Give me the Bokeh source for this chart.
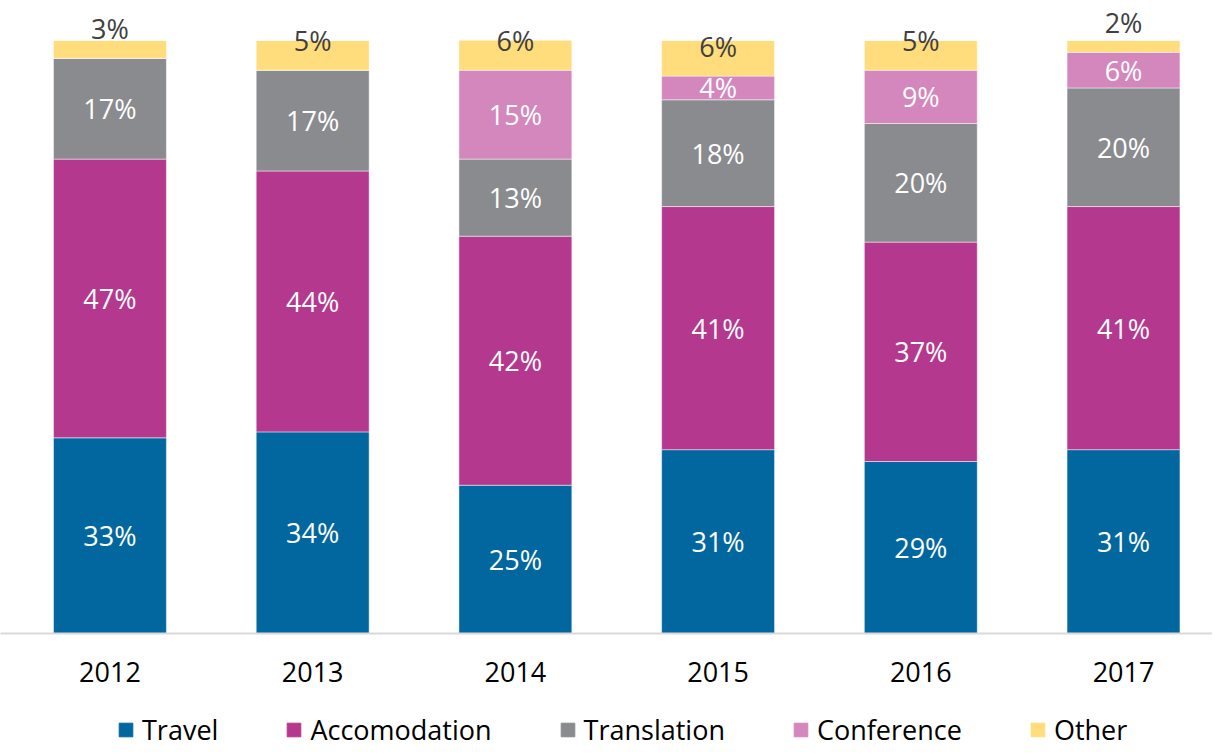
from bokeh.plotting import figure
from bokeh.models import ColumnDataSource, Range1d, FixedTicker, LabelSet, Legend, LegendItem, BoxAnnotation
from bokeh.core.properties import value
from bokeh.layouts import column
from bokeh.embed import file_html
from bokeh.resources import INLINE

years = ["2012", "2013", "2014", "2015", "2016", "2017"]
series_names = ["Travel", "Accomodation", "Translation", "Conference", "Other"]
travel = [33, 34, 25, 31, 29, 31]
accomodation = [47, 44, 42, 41, 37, 41]
translation = [17, 17, 13, 18, 20, 20]
conference = [0, 0, 15, 4, 9, 6]
other = [3, 5, 6, 6, 5, 2]
colors = ["#02679e", "#b5388f", "#8a8b8e", "#d487bd", "#ffdc7c"]
label_colors = ["white", "white", "white", "white", "#404040"]

FONT = "Open Sans"
keys = ["travel", "accomodation", "translation", "conference", "other"]
values_list = [travel, accomodation, translation, conference, other]

xs = list(range(len(years)))
data = {"x": xs}
for k, v in zip(keys, values_list):
    data[k] = v
source = ColumnDataSource(data)

Y_MAX = 100  # value axis maximum (as in the original chart)
p = figure(width=1212, height=708, x_range=Range1d(-0.540, 5.439), y_range=Range1d(0, 106.07),
           output_backend="svg", toolbar_location=None,
           min_border_left=0, min_border_right=0, min_border_top=4, min_border_bottom=75)

renderers = p.vbar_stack(keys, x="x", width=0.557, color=colors, source=source,
                         line_color="white", line_width=0.8, line_alpha=0.6)

# the value axis stops at 100%: hide anything stacked beyond it
p.add_layout(BoxAnnotation(bottom=Y_MAX, fill_color="white", fill_alpha=1.0, line_alpha=0))

# segment labels
lx, ly, lt, lc = [], [], [], []
bottoms = [0] * len(years)
for si, vals in enumerate(values_list):
    for i, v in enumerate(vals):
        if v > 0:
            lx.append(xs[i])
            if keys[si] == "other":
                ly.append(bottoms[i] + 5)
            else:
                ly.append(bottoms[i] + v / 2)
            lt.append(f"{v}%")
            lc.append(label_colors[si])
        bottoms[i] += v
lsrc = ColumnDataSource(dict(x=lx, y=ly, text=lt, color=lc))
labels = LabelSet(x="x", y="y", text="text", source=lsrc, text_color="color",
                  text_align="center", text_baseline="middle",
                  text_font=value(FONT), text_font_size="27px")
p.add_layout(labels)

p.yaxis.visible = False
p.xgrid.visible = False
p.ygrid.visible = False
p.outline_line_color = None

xa = p.xaxis[0]
xa.ticker = FixedTicker(ticks=xs)
xa.major_label_overrides = {i: y for i, y in enumerate(years)}
xa.axis_line_color = "#d9d9d9"
xa.axis_line_width = 2
xa.major_tick_line_color = None
xa.minor_tick_line_color = None
xa.major_label_text_font = FONT
xa.major_label_text_font_size = "27px"
xa.major_label_text_color = "#000000"
xa.major_label_standoff = 22

# legend strip (its bars lie outside the strip's visible range; only the legend shows)
lf = figure(width=1212, height=40, x_range=Range1d(-0.5, 5.5), y_range=Range1d(1000, 1001),
            output_backend="svg", toolbar_location=None,
            min_border_left=0, min_border_right=0, min_border_top=0, min_border_bottom=0)
lf.axis.visible = False
lf.grid.visible = False
lf.outline_line_color = None
lrs = [lf.vbar(x="x", top=k, width=0.5, color=c, source=source) for k, c in zip(keys, colors)]
lg = Legend(items=[LegendItem(label=n, renderers=[r]) for n, r in zip(series_names, lrs)],
            orientation="horizontal", location=(117, 0))
lg.border_line_color = None
lg.background_fill_alpha = 0
lg.padding = 0
lg.margin = 0
lg.spacing = 67
lg.glyph_width = 17
lg.glyph_height = 17
lg.label_standoff = 8
lg.label_text_font = FONT
lg.label_text_font_size = "27px"
lg.label_text_color = "#000000"
lf.add_layout(lg)

open("out.html", "w").write(file_html(column(p, lf, spacing=0), INLINE))
